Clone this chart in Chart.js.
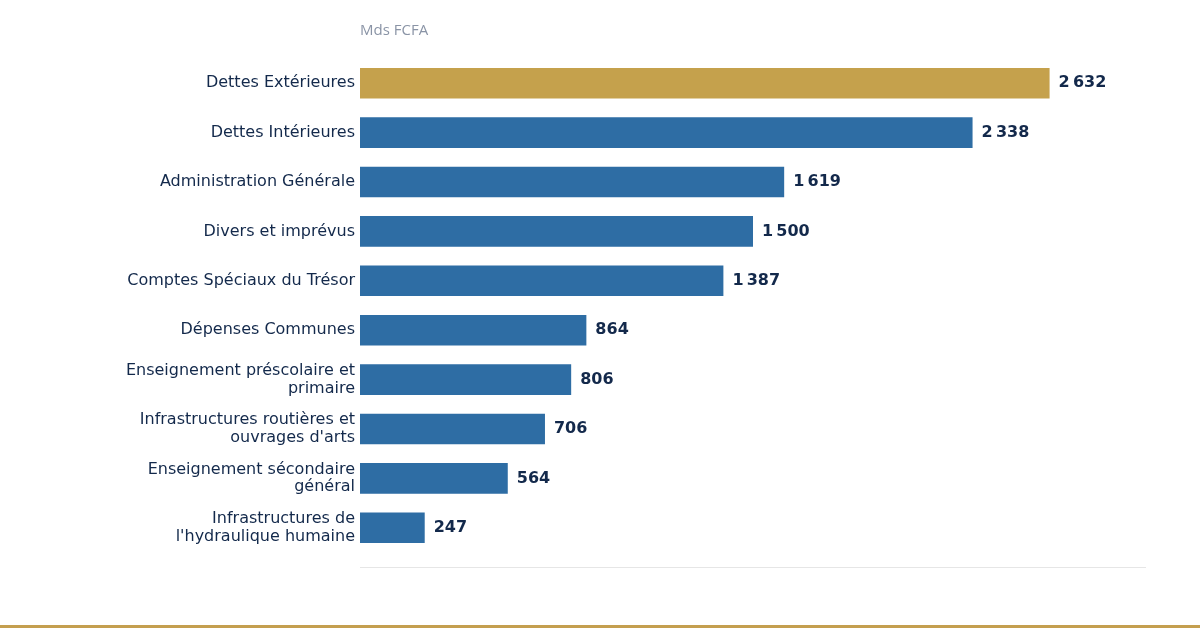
<!DOCTYPE html>
<html>
<head>
<meta charset="utf-8">
<script src="https://cdn.jsdelivr.net/npm/chart.js@4"></script>
<style>
html,body{margin:0;padding:0;background:#fff;}
#wrap{position:relative;width:1200px;height:630px;}
#goldline{position:absolute;left:0;top:625px;width:1200px;height:3px;background:#c49f4f;}
</style>
</head>
<body>
<div id="wrap">
<canvas id="c" width="1200" height="630"></canvas>
<div id="goldline"></div>
</div>
<script>
const categories = [
  "Dettes Extérieures",
  "Dettes Intérieures",
  "Administration Générale",
  "Divers et imprévus",
  "Comptes Spéciaux du Trésor",
  "Dépenses Communes",
  ["Enseignement préscolaire et", "primaire"],
  ["Infrastructures routières et", "ouvrages d'arts"],
  ["Enseignement sécondaire", "général"],
  ["Infrastructures de", "l'hydraulique humaine"]
];
const values = [2632, 2338, 1619, 1500, 1387, 864, 806, 706, 564, 247];
const unitLabel = "Mds FCFA";
const xMax = 3000;

const GOLD = "#c5a14c";
const BLUE = "#2e6da4";
const TEXT = "#13294b";
const barColors = values.map((v, i) => i === 0 ? GOLD : BLUE);

function fmt(v) {
  const s = String(v);
  return s.length > 3 ? s.slice(0, s.length - 3) + "\u202F" + s.slice(-3) : s;
}

const valueLabels = {
  id: "valueLabels",
  afterDatasetsDraw(chart) {
    const ctx = chart.ctx;
    const meta = chart.getDatasetMeta(0);
    ctx.save();
    ctx.font = "bold 16px 'DejaVu Sans'";
    ctx.fillStyle = TEXT;
    ctx.textAlign = "left";
    ctx.textBaseline = "middle";
    meta.data.forEach((bar, i) => {
      ctx.fillText(fmt(values[i]), bar.x + 9, bar.y);
    });
    const a = chart.chartArea;
    ctx.strokeStyle = "#e6e6e6";
    ctx.lineWidth = 1;
    ctx.beginPath();
    ctx.moveTo(a.left, a.bottom + 15);
    ctx.lineTo(a.right, a.bottom + 15);
    ctx.stroke();
    ctx.restore();
  }
};

new Chart(document.getElementById("c"), {
  type: "bar",
  data: {
    labels: categories,
    datasets: [{
      data: values,
      backgroundColor: barColors,
      borderWidth: 0,
      categoryPercentage: 1,
      barPercentage: 0.62
    }]
  },
  options: {
    indexAxis: "y",
    responsive: false,
    animation: false,
    devicePixelRatio: 1,
    layout: { padding: { left: 0, right: 54, top: 0, bottom: 77.5 } },
    plugins: {
      legend: { display: false },
      tooltip: { enabled: false }
    },
    scales: {
      x: {
        position: "top",
        min: 0,
        max: xMax,
        grid: { display: false, drawTicks: false },
        border: { display: false },
        ticks: { display: false },
        title: {
          display: true,
          text: unitLabel,
          align: "start",
          color: "#8a94a6",
          font: { family: "'Open Sans'", size: 15 },
          padding: { top: 22, bottom: 0 }
        },
        afterFit(scale) { scale.height = 58.5; }
      },
      y: {
        grid: { display: false, drawTicks: false },
        border: { display: false },
        ticks: {
          color: TEXT,
          font: { family: "'DejaVu Sans'", size: 16, lineHeight: 1.1 },
          padding: 5
        },
        afterFit(scale) { scale.width = 360; }
      }
    }
  },
  plugins: [valueLabels]
});
</script>
</body>
</html>
